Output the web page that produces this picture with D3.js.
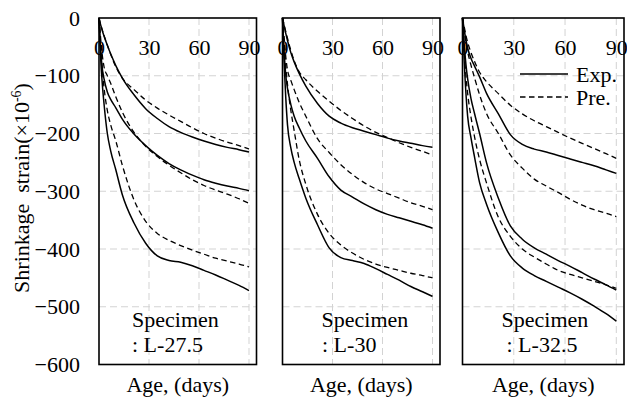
<!DOCTYPE html>
<html>
<head>
<meta charset="utf-8">
<script src="https://cdn.jsdelivr.net/npm/d3@7/dist/d3.min.js"></script>
<style>
  html, body { margin: 0; padding: 0; background: #fff; }
  svg { display: block; }
  svg text { font-family: "Liberation Serif", "Times New Roman", Times, "DejaVu Serif", serif !important; fill: #000; }
</style>
</head>
<body>
<svg id="chart" width="627" height="397"></svg>
<script>
// ---------- data ----------
const days = [0, 1, 2, 3, 5, 7, 10, 14, 21, 28, 35, 42, 49, 56, 63, 70, 77, 84, 90];
const specimens = ["L-27.5", "L-30", "L-32.5"];
const xTicks = [0, 30, 60, 90];
const yTicks = [0, -100, -200, -300, -400, -500, -600];

// Specimen L-27.5
const exp275A = [0, -12, -22, -31, -47, -62, -82, -104, -133, -157, -174, -188, -198, -206, -213, -219, -224, -228, -232];
const pre275A = [0, -11, -21, -30, -47, -63, -84, -104, -124, -142, -156, -168, -179, -190, -200, -208, -215, -221, -227];
const exp275B = [0, -55, -88, -105, -128, -141, -155, -175, -201, -221, -238, -252, -263, -272, -280, -286, -291, -295, -299];
const pre275B = [0, -35, -65, -84, -100, -113, -136, -163, -198, -222, -240, -255, -268, -280, -290, -298, -305, -313, -321];
const exp275C = [0, -70, -115, -148, -200, -230, -262, -306, -355, -390, -412, -420, -423, -429, -437, -445, -454, -463, -472];
const pre275C = [0, -50, -90, -120, -160, -185, -212, -255, -315, -352, -373, -385, -394, -402, -409, -416, -421, -426, -431];

// Specimen L-30
const exp30A = [0, -14, -27, -39, -60, -76, -96, -118, -148, -170, -182, -190, -196, -202, -208, -213, -217, -221, -224];
const pre30A = [0, -12, -24, -35, -56, -74, -93, -107, -127, -144, -160, -174, -187, -198, -207, -216, -224, -231, -237];
const exp30B = [0, -60, -100, -122, -150, -170, -190, -213, -243, -275, -298, -310, -322, -332, -340, -346, -352, -358, -364];
const pre30B = [0, -35, -68, -90, -108, -124, -146, -170, -209, -233, -254, -271, -285, -296, -304, -312, -320, -326, -332];
const exp30C = [0, -80, -140, -185, -225, -250, -278, -312, -358, -398, -415, -420, -425, -434, -444, -454, -465, -474, -482];
const pre30C = [0, -45, -85, -115, -160, -195, -245, -288, -340, -373, -393, -407, -418, -426, -432, -437, -442, -446, -450];

// Specimen L-32.5
const exp325A = [0, -20, -38, -52, -70, -83, -102, -130, -166, -202, -219, -227, -232, -238, -244, -250, -256, -263, -269];
const pre325A = [0, -15, -30, -42, -60, -75, -94, -110, -131, -151, -166, -178, -188, -198, -208, -217, -226, -235, -243];
const exp325B = [0, -45, -80, -105, -140, -165, -200, -250, -312, -360, -383, -398, -409, -420, -430, -441, -452, -462, -471];
const pre325B = [0, -22, -42, -58, -82, -103, -133, -165, -200, -237, -260, -279, -291, -302, -314, -324, -332, -338, -344];
const exp325C = [0, -75, -130, -170, -208, -240, -285, -322, -372, -412, -433, -446, -456, -466, -476, -487, -499, -512, -525];
const pre325C = [0, -55, -100, -130, -172, -205, -245, -285, -345, -378, -400, -414, -426, -437, -444, -450, -456, -462, -468];

const panelSeries = [
  { exp: [exp275A, exp275B, exp275C], pre: [pre275A, pre275B, pre275C] },
  { exp: [exp30A, exp30B, exp30C], pre: [pre30A, pre30B, pre30C] },
  { exp: [exp325A, exp325B, exp325C], pre: [pre325A, pre325B, pre325C] }
];
const legendLabels = ["Exp.", "Pre."];

// ---------- layout ----------
const FONT = '"Liberation Serif", "Times New Roman", Times, "DejaVu Serif", serif';
const svg = d3.select("#chart").attr("font-family", FONT);
const plotTop = 18, plotBottom = 364.5;
const panels = [
  { left: 99, right: 256.5, lab1: 33, lab2: 33 },
  { left: 282.5, right: 440, lab1: 39, lab2: 39.5 },
  { left: 462.5, right: 624, lab1: 39, lab2: 44 }
];
const FS = 22;

const y = d3.scaleLinear().domain([-600, 0]).range([plotBottom, plotTop]);

panels.forEach((p, i) => {
  const x = d3.scaleLinear().domain([0, 94.5]).range([p.left, p.right]);
  const g = svg.append("g");

  // grid
  g.append("g").selectAll("line")
    .data(yTicks.filter(v => v !== 0 && v !== -600))
    .join("line")
    .attr("x1", p.left).attr("x2", p.right)
    .attr("y1", d => y(d)).attr("y2", d => y(d))
    .attr("stroke", "#d3d3d3").attr("stroke-width", 1)
    .attr("stroke-dasharray", "7,4");
  g.append("g").selectAll("line")
    .data(xTicks.filter(v => v !== 0))
    .join("line")
    .attr("x1", d => x(d)).attr("x2", d => x(d))
    .attr("y1", plotTop).attr("y2", plotBottom)
    .attr("stroke", "#d3d3d3").attr("stroke-width", 1)
    .attr("stroke-dasharray", "7,4");

  // curves
  const line = d3.line()
    .x((d, k) => x(days[k]))
    .y(d => y(d))
    .curve(d3.curveMonotoneX);
  panelSeries[i].pre.forEach(s => {
    g.append("path").attr("d", line(s)).attr("fill", "none")
      .attr("stroke", "#000").attr("stroke-width", 1.3)
      .attr("stroke-dasharray", "5.5,3.5");
  });
  panelSeries[i].exp.forEach(s => {
    g.append("path").attr("d", line(s)).attr("fill", "none")
      .attr("stroke", "#000").attr("stroke-width", 1.5);
  });

  // frame
  g.append("rect")
    .attr("x", p.left).attr("y", plotTop)
    .attr("width", p.right - p.left).attr("height", plotBottom - plotTop)
    .attr("fill", "none").attr("stroke", "#000").attr("stroke-width", 1.6);

  // x axis (labels inside at top)
  const xa = g.append("g").attr("transform", `translate(0,${plotTop})`)
    .call(d3.axisBottom(x).tickValues(xTicks).tickSize(0).tickPadding(21));
  xa.attr("font-family", FONT).attr("font-size", FS);
  xa.select(".domain").remove();
  xa.selectAll("text").attr("fill", "#000");

  // x title
  g.append("text")
    .attr("x", (p.left + p.right) / 2).attr("y", 392)
    .attr("text-anchor", "middle")
    .attr("font-size", FS)
    .text("Age, (days)");

  // specimen label
  g.append("text").attr("x", p.left + p.lab1).attr("y", 327)
    .attr("font-size", FS).text("Specimen");
  g.append("text").attr("x", p.left + p.lab2).attr("y", 352)
    .attr("font-size", FS).text(": " + specimens[i]);

  // legend in last panel
  if (i === 2) {
    const lg = g.append("g");
    legendLabels.forEach((lab, k) => {
      const ly = 74 + k * 23;
      lg.append("line")
        .attr("x1", 520).attr("x2", 568).attr("y1", ly).attr("y2", ly)
        .attr("stroke", "#000").attr("stroke-width", k === 0 ? 1.5 : 1.3)
        .attr("stroke-dasharray", k === 0 ? null : "5.5,3.5");
      lg.append("text").attr("x", 576).attr("y", ly + 8)
        .attr("font-size", FS).text(lab);
    });
  }
});

// y axis on first panel
const ya = svg.append("g").attr("transform", `translate(${panels[0].left},0)`)
  .call(d3.axisLeft(y).tickValues(yTicks).tickSize(0).tickPadding(19)
    .tickFormat(d3.format("d")));
ya.attr("font-family", FONT).attr("font-size", FS);
ya.select(".domain").remove();
ya.selectAll("text").attr("fill", "#000");

// y title
const yt = svg.append("text")
  .attr("transform", "translate(29,188) rotate(-90)")
  .attr("text-anchor", "middle")
  .attr("font-size", FS);
yt.append("tspan").text("Shrinkage\u00a0\u00a0strain(\u00d710");
yt.append("tspan").attr("dy", -8).attr("font-size", 14).text("-6");
yt.append("tspan").attr("dy", 8).text(")");
</script>
</body>
</html>
